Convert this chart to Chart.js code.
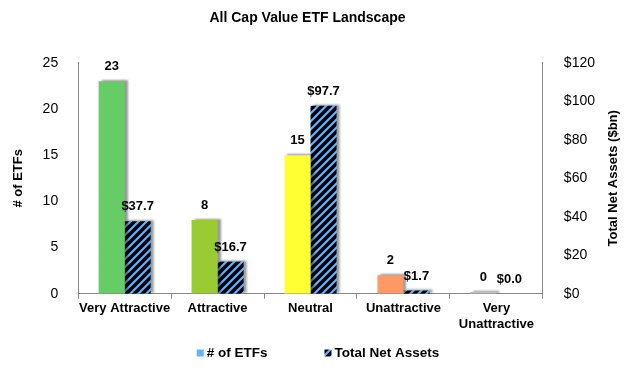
<!DOCTYPE html>
<html>
<head>
<meta charset="utf-8">
<script src="https://cdn.jsdelivr.net/npm/chart.js@4"></script>
<style>
  body { margin: 0; background: #fff; }
  #wrap { width: 630px; height: 368px; }
</style>
</head>
<body>
<div id="wrap"><canvas id="etfChart" width="630" height="368"></canvas></div>
<script>
// ---------------- DATA ----------------
const categories = ["Very Attractive", "Attractive", "Neutral", "Unattractive", ["Very", "Unattractive"]];
const etfCounts = [23, 8, 15, 2, 0];
const netAssets = [37.7, 16.7, 97.7, 1.7, 0.0];
const ratingColors = ["#66CC66", "#99CC33", "#FFFF33", "#FF9966", "#BFBFBF"];

// ---------------- HATCH ----------------
function makeHatch() {
    const c = document.createElement("canvas");
    c.width = 8; c.height = 8;
    const g = c.getContext("2d");
    g.fillStyle = "#000";
    g.fillRect(0, 0, 8, 8);
    g.strokeStyle = "#66B2FF";
    g.lineWidth = 2.2;
    g.beginPath();
    g.moveTo(-2, 10); g.lineTo(10, -2);
    g.moveTo(-2, 2); g.lineTo(2, -2);
    g.moveTo(6, 10); g.lineTo(10, 6);
    g.stroke();
    return document.getElementById("etfChart").getContext("2d").createPattern(c, "repeat");
}
const hatch = makeHatch();

const font = "'Liberation Sans', Arial, sans-serif";

// shadow behind bars
const barShadow = {
    id: "barShadow",
    beforeDatasetsDraw(chart) {
        const ctx = chart.ctx;
        ctx.save();
        ctx.shadowColor = "rgba(0,0,0,0.4)";
        ctx.shadowBlur = 2;
        ctx.shadowOffsetX = 3;
        ctx.shadowOffsetY = -1;
    },
    afterDatasetsDraw(chart) {
        chart.ctx.restore();
    }
};

// value labels above bars, right axis title (reads bottom to top), legend
const extras = {
    id: "extras",
    afterDatasetsDraw(chart) {
        const ctx = chart.ctx;
        ctx.save();
        ctx.font = "bold 13px " + font;
        ctx.fillStyle = "#000";
        ctx.textAlign = "center";
        ctx.textBaseline = "bottom";
        chart.data.datasets.forEach((ds, i) => {
            chart.getDatasetMeta(i).data.forEach((bar, j) => {
                const v = ds.data[j];
                const txt = i === 0 ? String(v) : "$" + v.toFixed(1);
                ctx.fillText(txt, bar.x, bar.y - 8);
            });
        });

        const area = chart.chartArea;
        ctx.translate(chart.width - 17, (area.top + area.bottom) / 2);
        ctx.rotate(-Math.PI / 2);
        ctx.textBaseline = "middle";
        ctx.fillText("Total Net Assets ($bn)", 0, 0);
        ctx.restore();
    },
    afterDraw(chart) {
        const ctx = chart.ctx;
        const items = [
            { text: "# of ETFs", fill: "#66B2FF" },
            { text: "Total Net Assets", fill: hatch }
        ];
        ctx.save();
        ctx.font = "bold 13.5px " + font;
        ctx.textBaseline = "middle";
        ctx.textAlign = "left";
        const box = 7, gap = 3, itemGap = 57;
        let total = 0;
        items.forEach((it, i) => {
            it.w = ctx.measureText(it.text).width;
            total += box + gap + it.w + (i ? 0 : itemGap);
        });
        let x = chart.width / 2 + 3 - total / 2;
        const y = chart.height - 15;
        items.forEach(it => {
            ctx.fillStyle = it.fill;
            ctx.fillRect(x, y - box / 2, box, box);
            ctx.fillStyle = "#000";
            ctx.fillText(it.text, x + box + gap, y);
            x += box + gap + it.w + itemGap;
        });
        ctx.restore();
    }
};

new Chart(document.getElementById("etfChart"), {
    type: "bar",
    data: {
        labels: categories,
        datasets: [
            {
                label: "# of ETFs",
                data: etfCounts,
                backgroundColor: ratingColors,
                minBarLength: 2,
                yAxisID: "y"
            },
            {
                label: "Total Net Assets",
                data: netAssets,
                backgroundColor: hatch,
                yAxisID: "y1"
            }
        ]
    },
    options: {
        responsive: false,
        animation: false,
        categoryPercentage: 0.56,
        barPercentage: 1.0,
        layout: { padding: { left: 7, right: 22, top: 4, bottom: 34 } },
        plugins: {
            title: {
                display: true,
                text: "All Cap Value ETF Landscape",
                color: "#000",
                font: { family: font, size: 14, weight: "bold" },
                padding: { top: 6, bottom: 36 }
            },
            legend: { display: false },
            tooltip: { enabled: false }
        },
        scales: {
            x: {
                grid: { display: true, drawOnChartArea: false, offset: true, color: "#888", tickLength: 5 },
                border: { color: "#888" },
                ticks: { color: "#000", font: { family: font, size: 13, weight: "bold" }, maxRotation: 0, autoSkip: false, padding: 2 }
            },
            y: {
                position: "left",
                min: 0, max: 25,
                ticks: { stepSize: 5, color: "#000", font: { family: font, size: 14 }, padding: 12 },
                grid: { display: false },
                border: { color: "#888" },
                title: { display: true, text: "# of ETFs", color: "#000", font: { family: font, size: 13, weight: "bold" }, padding: 4 }
            },
            y1: {
                position: "right",
                min: 0, max: 120,
                ticks: { stepSize: 20, color: "#000", font: { family: font, size: 14 }, padding: 13, callback: v => "$" + v },
                grid: { display: false },
                border: { color: "#888" }
            }
        }
    },
    plugins: [barShadow, extras]
});
</script>
</body>
</html>
